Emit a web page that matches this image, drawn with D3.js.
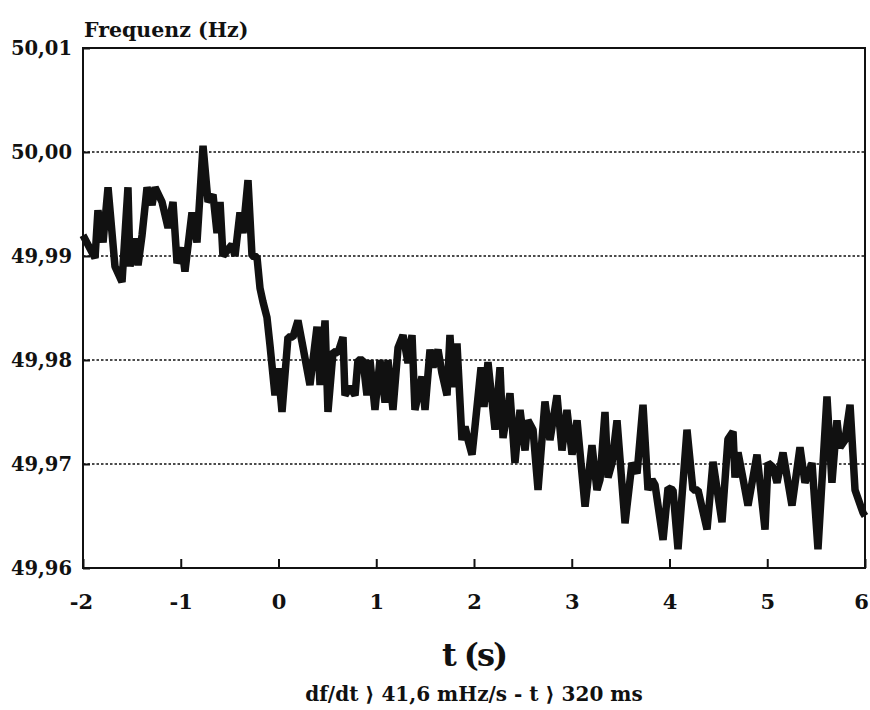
<!DOCTYPE html>
<html>
<head>
<meta charset="utf-8">
<script src="https://cdn.jsdelivr.net/npm/d3@7"></script>
<style>
  body { margin: 0; background: #fff; }
  svg { display: block; }
  text { font-family: "DejaVu Serif", serif; font-weight: bold; fill: #111; }
</style>
</head>
<body>
<svg></svg>
<script>
// time in seconds
const timeS = [
  -2.000, -1.877, -1.847, -1.795, -1.744, -1.673, -1.601, -1.540, -1.519, -1.468,
  -1.437, -1.396, -1.345, -1.294, -1.263, -1.192, -1.130, -1.079, -1.038, -0.987,
  -0.957, -0.885, -0.834, -0.772, -0.721, -0.670, -0.629, -0.598, -0.568, -0.476,
  -0.445, -0.394, -0.363, -0.312, -0.271, -0.220, -0.189, -0.159, -0.118, -0.087,
  -0.036, -0.005, 0.036, 0.097, 0.148, 0.199, 0.251, 0.322, 0.394, 0.425,
  0.476, 0.506, 0.558, 0.609, 0.660, 0.680, 0.731, 0.783, 0.813, 0.864,
  0.905, 0.936, 0.987, 1.038, 1.090, 1.120, 1.171, 1.223, 1.274, 1.325,
  1.366, 1.396, 1.468, 1.499, 1.550, 1.581, 1.632, 1.673, 1.724, 1.754,
  1.785, 1.826, 1.877, 1.908, 1.939, 1.980, 2.010, 2.072, 2.102, 2.143,
  2.215, 2.266, 2.297, 2.368, 2.419, 2.471, 2.522, 2.552, 2.604, 2.655,
  2.726, 2.777, 2.849, 2.900, 2.951, 3.003, 3.054, 3.136, 3.207, 3.258,
  3.289, 3.340, 3.371, 3.412, 3.463, 3.545, 3.616, 3.668, 3.729, 3.780,
  3.821, 3.852, 3.934, 3.985, 4.036, 4.087, 4.179, 4.240, 4.292, 4.384,
  4.445, 4.537, 4.598, 4.650, 4.670, 4.701, 4.742, 4.803, 4.895, 4.977,
  5.008, 5.059, 5.100, 5.161, 5.253, 5.335, 5.386, 5.458, 5.519, 5.611,
  5.662, 5.713, 5.744, 5.795, 5.847, 5.898, 5.980, 6.000
];

// frequency in Hz
const freqHz = [
  49.9920, 49.9898, 49.9944, 49.9913, 49.9966, 49.9890, 49.9875, 49.9966, 49.9890, 49.9917,
  49.9891, 49.9920, 49.9966, 49.9949, 49.9966, 49.9952, 49.9927, 49.9952, 49.9893, 49.9908,
  49.9885, 49.9942, 49.9913, 50.0006, 49.9952, 49.9959, 49.9922, 49.9952, 49.9900, 49.9911,
  49.9900, 49.9942, 49.9922, 49.9973, 49.9900, 49.9899, 49.9869, 49.9856, 49.9841, 49.9814,
  49.9766, 49.9792, 49.9750, 49.9822, 49.9822, 49.9838, 49.9812, 49.9776, 49.9832, 49.9776,
  49.9838, 49.9750, 49.9808, 49.9807, 49.9822, 49.9766, 49.9774, 49.9766, 49.9800, 49.9800,
  49.9766, 49.9800, 49.9752, 49.9800, 49.9759, 49.9800, 49.9752, 49.9812, 49.9824, 49.9797,
  49.9824, 49.9752, 49.9784, 49.9752, 49.9810, 49.9793, 49.9810, 49.9787, 49.9766, 49.9824,
  49.9774, 49.9816, 49.9723, 49.9736, 49.9723, 49.9709, 49.9736, 49.9793, 49.9755, 49.9798,
  49.9733, 49.9793, 49.9725, 49.9768, 49.9701, 49.9752, 49.9713, 49.9742, 49.9733, 49.9675,
  49.9760, 49.9723, 49.9766, 49.9713, 49.9752, 49.9709, 49.9742, 49.9659, 49.9718, 49.9675,
  49.9685, 49.9750, 49.9687, 49.9701, 49.9742, 49.9643, 49.9701, 49.9691, 49.9757, 49.9675,
  49.9685, 49.9680, 49.9627, 49.9677, 49.9675, 49.9618, 49.9733, 49.9675, 49.9675, 49.9637,
  49.9702, 49.9644, 49.9724, 49.9731, 49.9687, 49.9711, 49.9691, 49.9660, 49.9709, 49.9637,
  49.9701, 49.9697, 49.9682, 49.9711, 49.9660, 49.9716, 49.9682, 49.9701, 49.9618, 49.9765,
  49.9682, 49.9742, 49.9716, 49.9723, 49.9757, 49.9675, 49.9653, 49.9650
];

const yTicks = [49.96, 49.97, 49.98, 49.99, 50.00, 50.01];
const xTicks = [-2, -1, 0, 1, 2, 3, 4, 5, 6];
const gridLines = [49.97, 49.98, 49.99, 50.00];

const width = 870;
const height = 710;
const margin = { top: 48, right: 5, bottom: 142, left: 83 };
const innerWidth = width - margin.left - margin.right;
const innerHeight = height - margin.top - margin.bottom;

const de = d3.formatLocale({ decimal: ',', thousands: '.', grouping: [3], currency: ['', ' €'], minus: '-' });
const fmtY = de.format('.2f');
const fmtX = de.format('d');

const svg = d3.select('svg')
    .attr('width', width)
    .attr('height', height);

const g = svg.append('g')
    .attr('transform', `translate(${margin.left},${margin.top})`);

const xScale = d3.scaleLinear().domain([-2, 6]).range([0, innerWidth]);
const yScale = d3.scaleLinear().domain([49.96, 50.01]).range([innerHeight, 0]);

// dotted grid
g.selectAll('.grid').data(gridLines)
  .enter().append('line')
    .attr('class', 'grid')
    .attr('x1', 0)
    .attr('x2', innerWidth)
    .attr('y1', d => yScale(d))
    .attr('y2', d => yScale(d))
    .attr('stroke', '#111')
    .attr('stroke-width', 1.6)
    .attr('stroke-dasharray', '2.5,2');

// x ticks pointing up into the plot
const xAxis = d3.axisBottom(xScale)
  .tickValues(xTicks)
  .tickSizeInner(-9)
  .tickSizeOuter(0)
  .tickPadding(26)
  .tickFormat(fmtX);

const xG = g.append('g')
    .attr('transform', `translate(0,${innerHeight})`)
    .call(xAxis);
xG.select('.domain').remove();
xG.selectAll('line').attr('stroke', '#111').attr('stroke-width', 2);
xG.selectAll('text')
    .attr('font-family', '"DejaVu Serif", serif')
    .attr('font-weight', 'bold')
    .attr('font-size', 21)
    .attr('fill', '#111')
    .attr('dx', d => d === 6 ? -4 : (d === -2 ? -2 : 0));

// y labels
const yAxis = d3.axisLeft(yScale)
  .tickValues(yTicks)
  .tickSizeInner(-7)
  .tickSizeOuter(0)
  .tickPadding(11)
  .tickFormat(fmtY);

const yG = g.append('g').call(yAxis);
yG.select('.domain').remove();
yG.selectAll('line').attr('stroke', '#111').attr('stroke-width', 2);
yG.selectAll('text')
    .attr('font-family', '"DejaVu Serif", serif')
    .attr('font-weight', 'bold')
    .attr('font-size', 19.5)
    .attr('fill', '#111');

// frame
g.append('rect')
    .attr('x', 0)
    .attr('y', 0)
    .attr('width', innerWidth)
    .attr('height', innerHeight)
    .attr('fill', 'none')
    .attr('stroke', '#111')
    .attr('stroke-width', 2);

// the frequency trace
const points = timeS.map((t, i) => [t, freqHz[i]]);
const lineGen = d3.line()
  .x(d => xScale(d[0]))
  .y(d => yScale(d[1]));

g.append('path')
    .datum(points)
    .attr('d', lineGen)
    .attr('fill', 'none')
    .attr('stroke', '#111')
    .attr('stroke-width', 7.5)
    .attr('stroke-linejoin', 'bevel');

// titles
svg.append('text')
    .attr('x', 84)
    .attr('y', 37)
    .attr('font-size', 20.5)
    .text('Frequenz (Hz)');

svg.append('text')
    .attr('x', margin.left + xScale(2))
    .attr('y', 666)
    .attr('text-anchor', 'middle')
    .attr('font-size', 32)
    .attr('letter-spacing', -2)
    .text('t (s)');

svg.append('text')
    .attr('x', margin.left + xScale(2))
    .attr('y', 701)
    .attr('text-anchor', 'middle')
    .attr('font-size', 20)
    .text('df/dt ⟩ 41,6 mHz/s - t ⟩ 320 ms');
</script>
</body>
</html>
